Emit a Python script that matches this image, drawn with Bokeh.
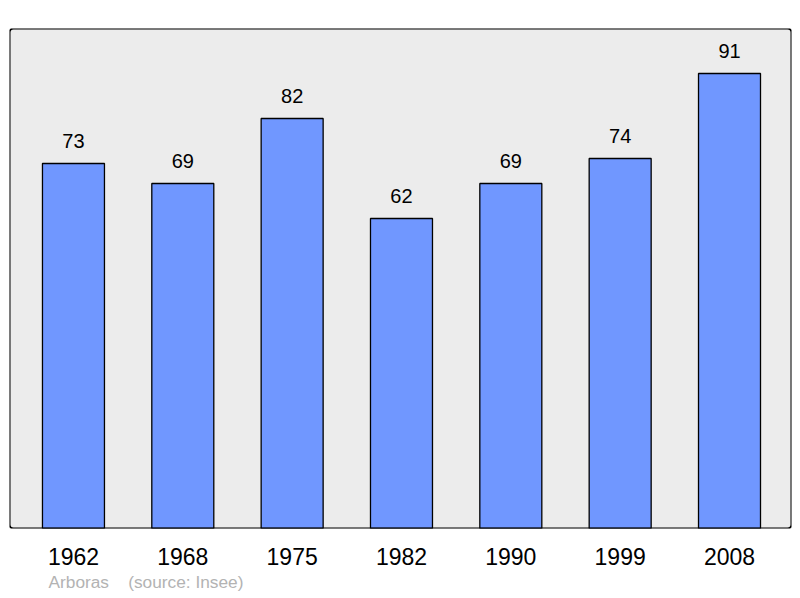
from bokeh.plotting import figure
from bokeh.models import ColumnDataSource, Range1d, FixedTicker, Title, BoxAnnotation
from bokeh.embed import file_html
from bokeh.resources import INLINE

years = ["1962", "1968", "1975", "1982", "1990", "1999", "2008"]
population = [73, 69, 82, 62, 69, 74, 91]
commune = "Arboras"
source_note = "(source: Insee)"

xs = list(range(len(years)))
src = ColumnDataSource(dict(x=xs, top=population, lbl=[str(v) for v in population]))

x0, x1 = -0.585, 6.567
p = figure(width=800, height=598, output_backend="svg", toolbar_location=None,
           x_range=Range1d(x0, x1), y_range=Range1d(0, 100),
           min_border_left=9, min_border_right=9, min_border_top=28, min_border_bottom=70)
p.background_fill_color = "#ececec"
p.border_fill_color = "white"
p.outline_line_color = None
p.grid.visible = False
p.yaxis.visible = False

p.vbar(x="x", top="top", bottom=0, width=0.567, source=src,
       fill_color="#7097ff", line_color="black", line_width=1.3)
p.text(x="x", y="top", text="lbl", source=src, text_align="center",
       text_baseline="alphabetic", y_offset=-23, text_font_size="20px",
       text_font={"value": "Liberation Sans"}, text_color="black")

p.add_layout(BoxAnnotation(left=x0, right=x1, bottom=0, top=100, fill_color=None,
                           fill_alpha=0, line_color="black", line_alpha=1.0,
                           line_width=2, border_radius=4))

ax = p.xaxis[0]
ax.ticker = FixedTicker(ticks=xs)
ax.major_label_overrides = {i: y for i, y in zip(xs, years)}
ax.axis_line_color = None
ax.major_tick_line_color = None
ax.minor_tick_line_color = None
ax.major_label_standoff = 13
ax.major_label_text_font = "Liberation Sans"
ax.major_label_text_font_size = "23px"
ax.major_label_text_color = "black"

p.add_layout(Title(text=commune + "\u00a0\u00a0\u00a0\u00a0" + source_note, align="left",
                   offset=39, standoff=5, text_font="Liberation Sans",
                   text_font_size="17.3px", text_font_style="normal",
                   text_color="#b3b3b3"), "below")

open("out.html", "w").write(file_html(p, INLINE))
